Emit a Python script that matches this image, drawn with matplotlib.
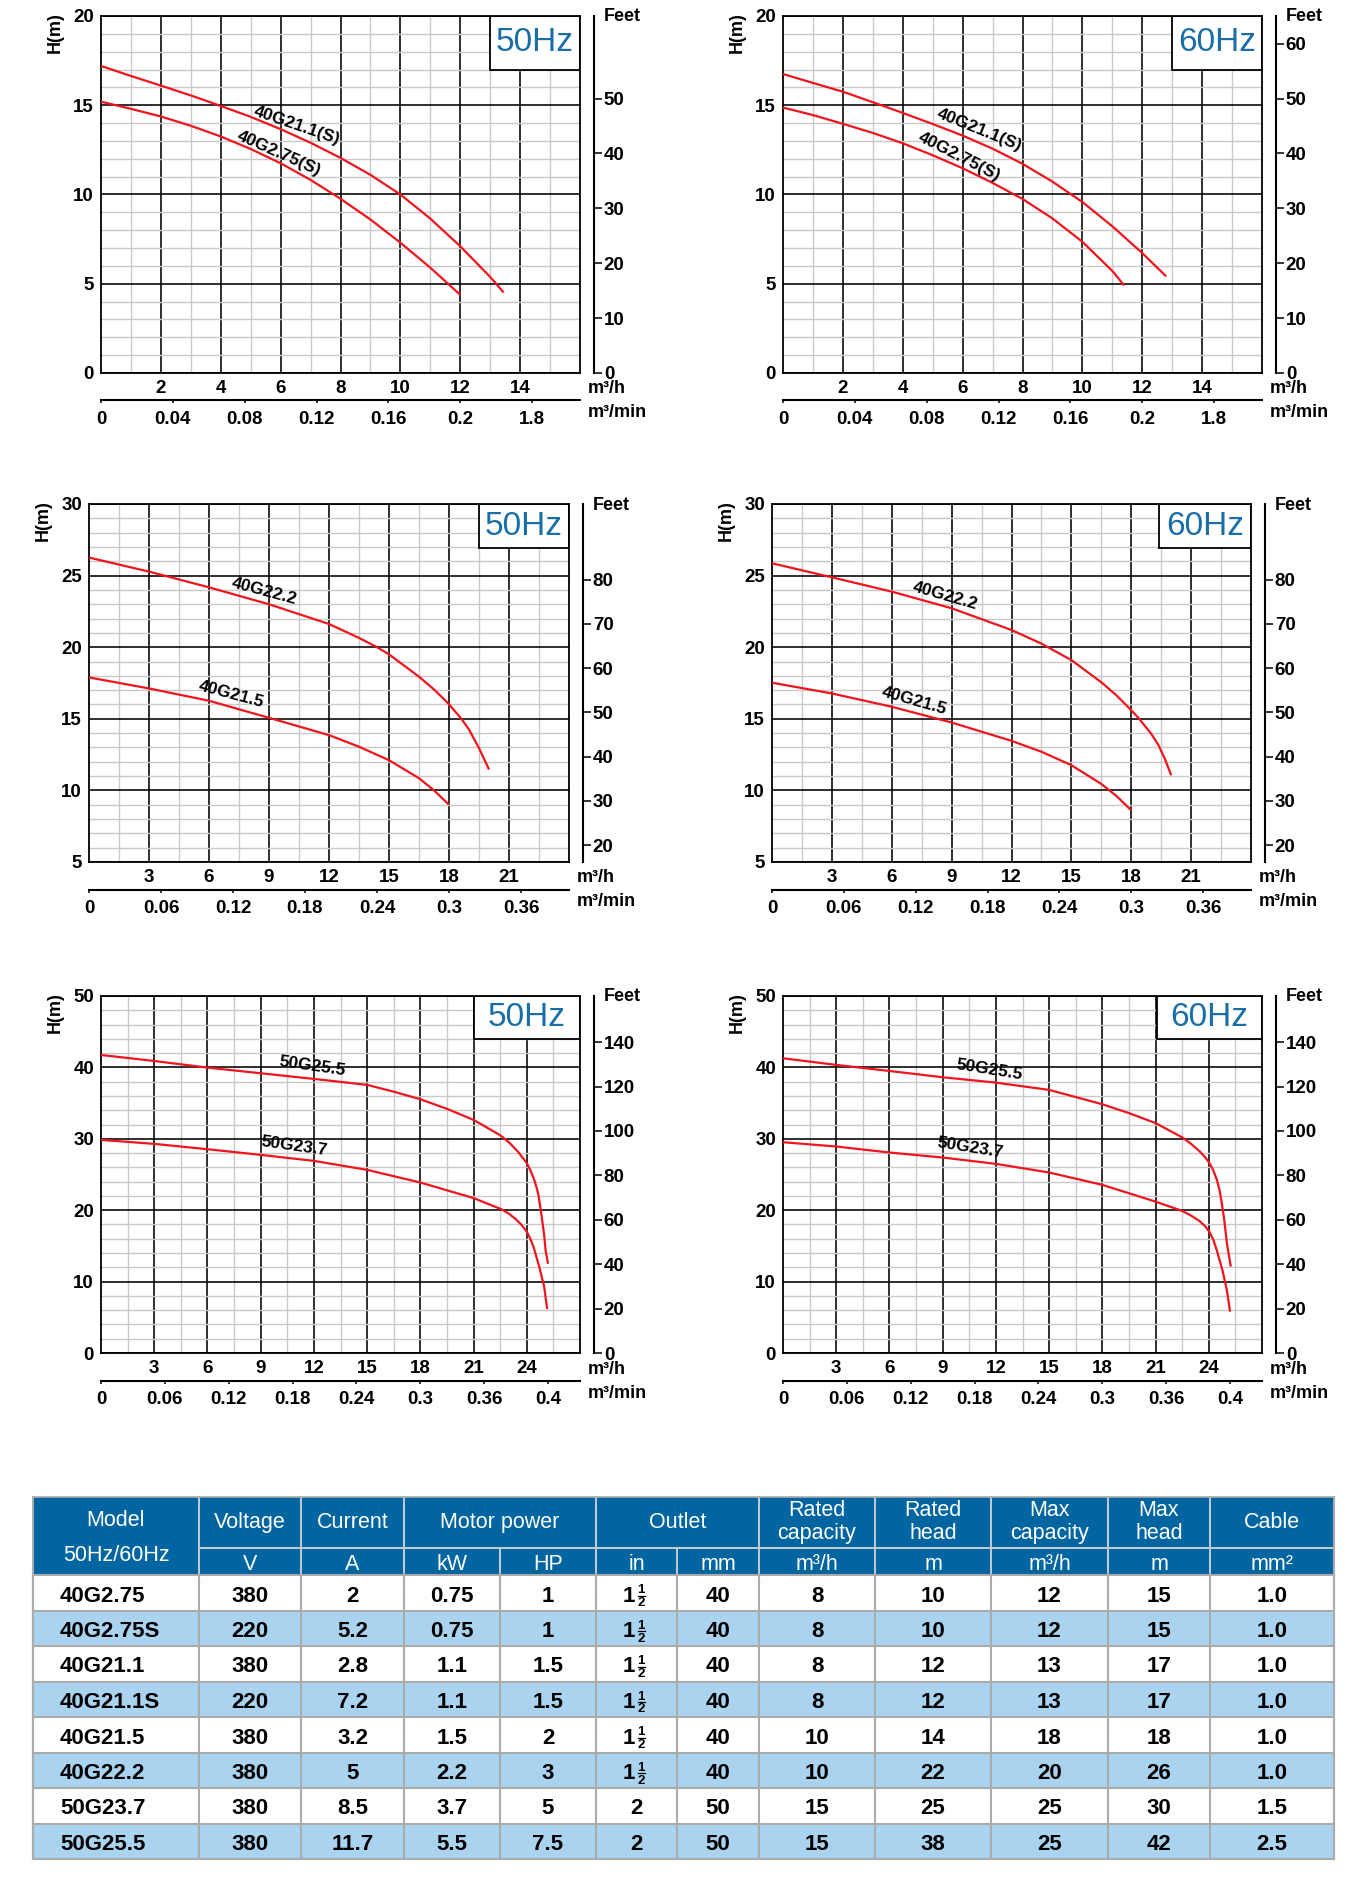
import numpy as np
import matplotlib
matplotlib.use("Agg")
import matplotlib.pyplot as plt
from matplotlib.patches import Rectangle

plt.rcParams['font.family'] = ['Liberation Sans', 'DejaVu Sans']
plt.rcParams['font.weight'] = 'bold'

# ---------------------------------------------------------------- data
# Panel 1 (50Hz)  40G21.1(S) / 40G2.75(S)
p1_q_a = [0, 1, 2, 3, 4, 5, 6, 7, 8, 9, 10, 11, 12, 13, 13.45]
p1_h_a = [17.2, 16.64, 16.1, 15.55, 14.96, 14.35, 13.66, 12.9, 12.05, 11.1, 10.0, 8.65, 7.1, 5.38, 4.51]
p1_q_b = [0, 1, 2, 3, 4, 5, 6, 7, 8, 9, 10, 11, 12]
p1_h_b = [15.2, 14.8, 14.37, 13.85, 13.25, 12.55, 11.75, 10.82, 9.76, 8.6, 7.3, 5.9, 4.38]
# Panel 2 (60Hz)
p2_q_a = [0, 1, 2, 3, 4, 5, 6, 7, 8, 9, 10, 11, 12, 12.8]
p2_h_a = [16.75, 16.25, 15.76, 15.17, 14.57, 13.95, 13.3, 12.57, 11.72, 10.72, 9.58, 8.22, 6.72, 5.41]
p2_q_b = [0, 1, 2, 3, 4, 5, 6, 7, 8, 9, 10, 11, 11.4]
p2_h_b = [14.87, 14.45, 13.96, 13.45, 12.87, 12.2, 11.47, 10.65, 9.75, 8.66, 7.35, 5.72, 4.9]
# Panel 3 (50Hz)  40G22.2 / 40G21.5
p3_q_a = [0, 3, 6, 9, 12, 13.5, 14.4, 15, 16.5, 17.25, 18, 18.62, 19, 19.5, 20]
p3_h_a = [26.26, 25.28, 24.18, 23.0, 21.62, 20.65, 20.0, 19.5, 17.94, 17.05, 16.02, 15.0, 14.25, 12.95, 11.46]
p3_q_b = [0, 3, 6, 9, 12, 13.5, 15, 16.5, 17.25, 18]
p3_h_b = [17.89, 17.12, 16.26, 15.07, 13.86, 13.05, 12.11, 10.85, 10.0, 9.0]
# Panel 4 (60Hz)
p4_q_a = [0, 3, 6, 9, 12, 13.5, 15, 16.5, 17.25, 18, 18.4, 19.0, 19.35, 19.67, 20]
p4_h_a = [25.86, 24.88, 23.88, 22.72, 21.2, 20.25, 19.1, 17.55, 16.65, 15.6, 15.0, 13.95, 13.2, 12.25, 11.06]
p4_q_b = [0, 3, 6, 9, 12, 13.5, 15, 16.5, 17.25, 18]
p4_h_b = [17.52, 16.77, 15.84, 14.74, 13.46, 12.7, 11.76, 10.45, 9.62, 8.61]
# Panel 5 (50Hz)  50G25.5 / 50G23.7
p5_q_a = [0, 3, 6, 9, 12, 15, 16.5, 18, 19.5, 21, 22.5, 23.0, 23.5, 24, 24.2, 24.4, 24.55,
          24.66, 24.83, 24.98, 25.07, 25.2]
p5_h_a = [41.74, 40.9, 39.97, 39.18, 38.39, 37.55, 36.6, 35.54, 34.2, 32.65, 30.5, 29.5, 28.2, 26.6,
          25.6, 24.4, 23.2, 22.1, 19.3, 16.5, 14.2, 12.5]
p5_q_b = [0, 3, 6, 9, 12, 15, 18, 21, 22.6, 23.0, 23.4, 23.7, 24, 24.2, 24.4, 24.7, 24.98, 25.15]
p5_h_b = [29.85, 29.29, 28.54, 27.75, 26.91, 25.65, 23.88, 21.7, 20.1, 19.5, 18.7, 17.95, 17.0, 16.0,
          14.7, 12.1, 9.3, 6.15]
# Panel 6 (60Hz)
p6_q_a = [0, 3, 6, 9, 12, 15, 18, 19.5, 21, 22.5, 23.0, 23.5, 23.8, 24.04, 24.25, 24.45, 24.6, 24.7,
          24.87, 25.02, 25.24]
p6_h_a = [41.28, 40.35, 39.5, 38.62, 37.87, 36.85, 34.84, 33.6, 32.2, 30.2, 29.3, 28.2, 27.4, 26.6,
          25.6, 24.3, 22.9, 21.5, 18.7, 15.4, 12.1]
p6_q_b = [0, 3, 6, 9, 12, 15, 18, 21, 22.5, 23.0, 23.47, 23.8, 24.04, 24.25, 24.45, 24.77, 25.02, 25.2]
p6_h_b = [29.52, 28.92, 28.08, 27.38, 26.49, 25.28, 23.55, 21.2, 19.9, 19.25, 18.5, 17.75, 16.95, 15.9,
          14.4, 11.6, 8.8, 5.8]

curve_names_top = ['40G21.1(S)', '40G2.75(S)']
curve_names_mid = ['40G22.2', '40G21.5']
curve_names_bot = ['50G25.5', '50G23.7']

# axis tick values / labels
top_qh_ticks = [2, 4, 6, 8, 10, 12, 14]
mid_qh_ticks = [3, 6, 9, 12, 15, 18, 21]
bot_qh_ticks = [3, 6, 9, 12, 15, 18, 21, 24]
top_h_ticks = [0, 5, 10, 15, 20]
mid_h_ticks = [5, 10, 15, 20, 25, 30]
bot_h_ticks = [0, 10, 20, 30, 40, 50]
top_min_ticks = [0, 0.04, 0.08, 0.12, 0.16, 0.2, 0.24]
top_min_labels = ['0', '0.04', '0.08', '0.12', '0.16', '0.2', '1.8']
mid_min_ticks = [0, 0.06, 0.12, 0.18, 0.24, 0.3, 0.36]
mid_min_labels = ['0', '0.06', '0.12', '0.18', '0.24', '0.3', '0.36']
bot_min_ticks = [0, 0.06, 0.12, 0.18, 0.24, 0.3, 0.36, 0.42]
bot_min_labels = ['0', '0.06', '0.12', '0.18', '0.24', '0.3', '0.36', '0.4']
feet_ticks_p1 = [0, 10, 20, 30, 40, 50]
feet_ticks_p2 = [0, 10, 20, 30, 40, 50, 60]
feet_ticks_mid = [20, 30, 40, 50, 60, 70, 80]
feet_ticks_bot = [0, 20, 40, 60, 80, 100, 120, 140]

# table
col_heads = ['Voltage', 'Current', 'Motor power', 'Outlet', 'Rated\ncapacity',
             'Rated\nhead', 'Max\ncapacity', 'Max\nhead', 'Cable']
col_units = ['V', 'A', 'kW', 'HP', 'in', 'mm', 'm³/h', 'm', 'm³/h', 'm', 'mm²']
models = ['40G2.75', '40G2.75S', '40G21.1', '40G21.1S', '40G21.5', '40G22.2', '50G23.7', '50G25.5']
voltage = ['380', '220', '380', '220', '380', '380', '380', '380']
current = ['2', '5.2', '2.8', '7.2', '3.2', '5', '8.5', '11.7']
power_kw = ['0.75', '0.75', '1.1', '1.1', '1.5', '2.2', '3.7', '5.5']
power_hp = ['1', '1', '1.5', '1.5', '2', '3', '5', '7.5']
outlet_in = ['1 1/2', '1 1/2', '1 1/2', '1 1/2', '1 1/2', '1 1/2', '2', '2']
outlet_mm = ['40', '40', '40', '40', '40', '40', '50', '50']
rated_cap = ['8', '8', '8', '8', '10', '10', '15', '15']
rated_head = ['10', '10', '12', '12', '14', '22', '25', '38']
max_cap = ['12', '12', '13', '13', '18', '20', '25', '25']
max_head = ['15', '15', '17', '17', '18', '26', '30', '42']
cable = ['1.0', '1.0', '1.0', '1.0', '1.0', '1.0', '1.5', '2.5']

# ---------------------------------------------------------------- style
W, H = 1358, 1898
RED = '#f0141c'
HZBLUE = '#1a6ea8'
HEAD = '#0065a1'
ROW = '#a9d3ef'
TICK_FS = 13.5
LAB_FS = 13

fig = plt.figure(figsize=(W / 100, H / 100), dpi=100)

# table axes in pixel coordinates (drawn first, under everything)
tax = fig.add_axes([0, 0, 1, 1])
tax.set_xlim(0, W)
tax.set_ylim(H, 0)
tax.axis('off')


def panel(rect, xmax, xmaj, xminor, ylim, ymaj, yminor, curves, labels, hz,
          box_xy, feet_ticks, m_per_ft, min_ticks, min_labels):
    l, t, r, b = rect
    aw, ah = r - l, b - t
    ax = fig.add_axes([l / W, 1 - b / H, aw / W, ah / H])
    ax.set_xlim(0, xmax)
    ax.set_ylim(*ylim)
    ax.set_axisbelow(True)
    ax.set_xticks(xmaj)
    ax.set_xticks(np.arange(xminor, xmax, xminor), minor=True)
    ax.set_yticks(ymaj)
    ax.set_yticks(np.arange(ylim[0], ylim[1], yminor), minor=True)
    ax.grid(which='minor', color='#c9c9c9', lw=1.0)
    ax.grid(which='major', color='black', lw=1.15)
    ax.tick_params(which='both', length=0, labelsize=TICK_FS)
    ax.tick_params(axis='x', pad=5)
    ax.tick_params(axis='y', pad=5)
    for s in ax.spines.values():
        s.set_linewidth(1.3)
    for (q, h), (name, lx, ly, rot) in zip(curves, labels):
        ax.plot(q, h, color=RED, lw=1.6, zorder=3, clip_on=False,
                solid_capstyle='butt', solid_joinstyle='round')
        ax.text(lx, ly, name, rotation=rot, ha='center', va='center',
                rotation_mode='anchor', fontsize=12.5, fontweight='bold',
                zorder=4)
    bx, by = box_xy
    ax.add_patch(Rectangle((bx, by), xmax - bx, ylim[1] - by, fc='white',
                           ec='black', lw=1.3, zorder=2))
    ax.text((bx + xmax) / 2, (by + ylim[1]) / 2, hz, ha='center',
            va='center', fontsize=24, color=HZBLUE, fontweight='normal',
            zorder=3)
    # secondary m3/min axis
    sec = ax.secondary_xaxis(-27.5 / ah, functions=(lambda v: v / 60.0,
                                                   lambda v: v * 60.0))
    sec.set_xticks(min_ticks, labels=min_labels)
    sec.spines['bottom'].set_linewidth(1.5)
    sec.tick_params(direction='out', length=2.5, width=1.1, pad=5,
                    labelsize=TICK_FS)
    # feet axis
    secy = ax.secondary_yaxis(1 + 14.0 / aw, functions=(lambda v: v / m_per_ft,
                                                       lambda v: v * m_per_ft))
    secy.set_yticks(feet_ticks)
    secy.spines['right'].set_linewidth(1.5)
    secy.tick_params(direction='out', length=5.6, width=1.1, pad=1.5,
                     labelsize=TICK_FS)
    # axis labels
    ax.annotate('H(m)', (0, 1), xycoords='axes fraction', xytext=(-46, 4),
                textcoords='offset pixels', rotation=90, ha='center',
                va='top', fontsize=LAB_FS)
    ax.annotate('Feet', (1, 1), xycoords='axes fraction', xytext=(24, -1),
                textcoords='offset pixels', ha='left', va='center',
                fontsize=LAB_FS)
    ax.annotate('m³/h', (1, 0), xycoords='axes fraction', xytext=(8, -16),
                textcoords='offset pixels', ha='left', va='center',
                fontsize=LAB_FS)
    ax.annotate('m³/min', (1, 0), xycoords='axes fraction', xytext=(8, -40),
                textcoords='offset pixels', ha='left', va='center',
                fontsize=LAB_FS)
    return ax


panel((101, 16, 580, 373), 16, top_qh_ticks, 1, (0, 20), top_h_ticks, 1,
      [(p1_q_a, p1_h_a), (p1_q_b, p1_h_b)],
      [(curve_names_top[0], 6.55, 13.85, -19), (curve_names_top[1], 5.95, 12.3, -24)],
      '50Hz', (13, 17), feet_ticks_p1, 0.3075, top_min_ticks, top_min_labels)
panel((783, 16, 1262, 373), 16, top_qh_ticks, 1, (0, 20), top_h_ticks, 1,
      [(p2_q_a, p2_h_a), (p2_q_b, p2_h_b)],
      [(curve_names_top[0], 6.55, 13.6, -22), (curve_names_top[1], 5.9, 12.1, -27)],
      '60Hz', (13, 17), feet_ticks_p2, 0.3075, top_min_ticks, top_min_labels)
panel((89, 504, 569, 862), 24, mid_qh_ticks, 1.5, (5, 30), mid_h_ticks, 1,
      [(p3_q_a, p3_h_a), (p3_q_b, p3_h_b)],
      [(curve_names_mid[0], 8.75, 23.9, -15), (curve_names_mid[1], 7.1, 16.7, -15)],
      '50Hz', (19.5, 26.9), feet_ticks_mid, 0.309, mid_min_ticks, mid_min_labels)
panel((772, 504, 1251, 862), 24, mid_qh_ticks, 1.5, (5, 30), mid_h_ticks, 1,
      [(p4_q_a, p4_h_a), (p4_q_b, p4_h_b)],
      [(curve_names_mid[0], 8.7, 23.55, -16), (curve_names_mid[1], 7.1, 16.25, -16)],
      '60Hz', (19.4, 26.9), feet_ticks_mid, 0.309, mid_min_ticks, mid_min_labels)
panel((101, 996, 580, 1353), 27, bot_qh_ticks, 1.5, (0, 50), bot_h_ticks, 2,
      [(p5_q_a, p5_h_a), (p5_q_b, p5_h_b)],
      [(curve_names_bot[0], 11.9, 40.1, -8), (curve_names_bot[1], 10.9, 29.0, -8)],
      '50Hz', (21, 44), feet_ticks_bot, 0.311, bot_min_ticks, bot_min_labels)
panel((783, 996, 1262, 1353), 27, bot_qh_ticks, 1.5, (0, 50), bot_h_ticks, 2,
      [(p6_q_a, p6_h_a), (p6_q_b, p6_h_b)],
      [(curve_names_bot[0], 11.6, 39.65, -9), (curve_names_bot[1], 10.55, 28.8, -9)],
      '60Hz', (21.07, 44), feet_ticks_bot, 0.311, bot_min_ticks, bot_min_labels)

# ---------------------------------------------------------------- table
xe = [33, 199, 301, 404, 500, 596, 677, 759, 875, 991, 1108, 1210, 1334]
y_top, y_mid, y_hb = 1497, 1548, 1575
row_h = 35.5
nrows = len(models)
y_end = y_hb + nrows * row_h
HFS, BFS = 15.5, 16

tax.add_patch(Rectangle((xe[0], y_top), xe[-1] - xe[0], y_hb - y_top,
                        fc=HEAD, ec='none'))
for i in range(nrows):
    y0 = y_hb + i * row_h
    tax.add_patch(Rectangle((xe[0], y0), xe[-1] - xe[0], row_h,
                            fc=('white' if i % 2 == 0 else ROW), ec='none'))

# header separators
HL = '#c6ccd2'
spans = [(1, 2), (2, 3), (3, 5), (5, 7), (7, 8), (8, 9), (9, 10), (10, 11), (11, 12)]
for a, _ in spans:
    tax.plot([xe[a], xe[a]], [y_top, y_mid], color=HL, lw=1.4)
for k in range(1, 12):
    tax.plot([xe[k], xe[k]], [y_mid, y_hb], color=HL, lw=1.4)
tax.plot([xe[1], xe[-1]], [y_mid, y_mid], color=HL, lw=1.4)

# body grid
BL = '#ababab'
for i in range(nrows + 1):
    y = y_hb + i * row_h
    tax.plot([xe[0], xe[-1]], [y, y], color=BL, lw=1.5)
for k in range(len(xe)):
    tax.plot([xe[k], xe[k]], [y_hb, y_end], color=BL, lw=1.5)
tax.plot([xe[0], xe[0]], [y_top, y_end], color=BL, lw=1.5)
tax.plot([xe[-1], xe[-1]], [y_top, y_end], color=BL, lw=1.5)
tax.plot([xe[0], xe[-1]], [y_top, y_top], color=BL, lw=1.2)

# header texts
tax.text((xe[0] + xe[1]) / 2, 1526, 'Model', ha='center', va='baseline',
         color='white', fontsize=HFS, fontweight='normal')
tax.text((xe[0] + xe[1]) / 2, 1561, '50Hz/60Hz', ha='center', va='baseline',
         color='white', fontsize=HFS, fontweight='normal')
for (a, b), txt in zip(spans, col_heads):
    cx = (xe[a] + xe[b]) / 2
    lines = txt.split('\n')
    if len(lines) == 1:
        tax.text(cx, 1528, txt, ha='center', va='baseline', color='white',
                 fontsize=HFS, fontweight='normal')
    else:
        tax.text(cx, 1516, lines[0], ha='center', va='baseline', color='white',
                 fontsize=HFS, fontweight='normal')
        tax.text(cx, 1539, lines[1], ha='center', va='baseline', color='white',
                 fontsize=HFS, fontweight='normal')
for k, u in enumerate(col_units):
    cx = (xe[k + 1] + xe[k + 2]) / 2
    tax.text(cx, 1570, u, ha='center', va='baseline', color='white',
             fontsize=HFS, fontweight='normal')

# body texts
columns = [voltage, current, power_kw, power_hp, outlet_in, outlet_mm,
           rated_cap, rated_head, max_cap, max_head, cable]
for i in range(nrows):
    y0 = y_hb + i * row_h
    yb = y0 + 26.5
    tax.text(60, yb, models[i], ha='left', va='baseline', fontsize=BFS,
             color='black')
    for k, col in enumerate(columns):
        cx = (xe[k + 1] + xe[k + 2]) / 2
        val = col[i]
        if ' ' in val:
            whole, frac = val.split(' ')
            num, den = frac.split('/')
            tax.text(cx - 1, yb, whole, ha='right', va='baseline',
                     fontsize=BFS, color='black')
            tax.text(cx + 4.5, y0 + 18.3, num, ha='center', va='baseline',
                     fontsize=9.5, color='black')
            tax.text(cx + 4.5, y0 + 31, den, ha='center', va='baseline',
                     fontsize=9.5, color='black')
            tax.plot([cx + 1, cx + 8], [y0 + 20.8, y0 + 20.8], color='black',
                     lw=0.9)
        else:
            tax.text(cx, yb, val, ha='center', va='baseline', fontsize=BFS,
                     color='black')

fig.savefig('out.png', dpi=100)
